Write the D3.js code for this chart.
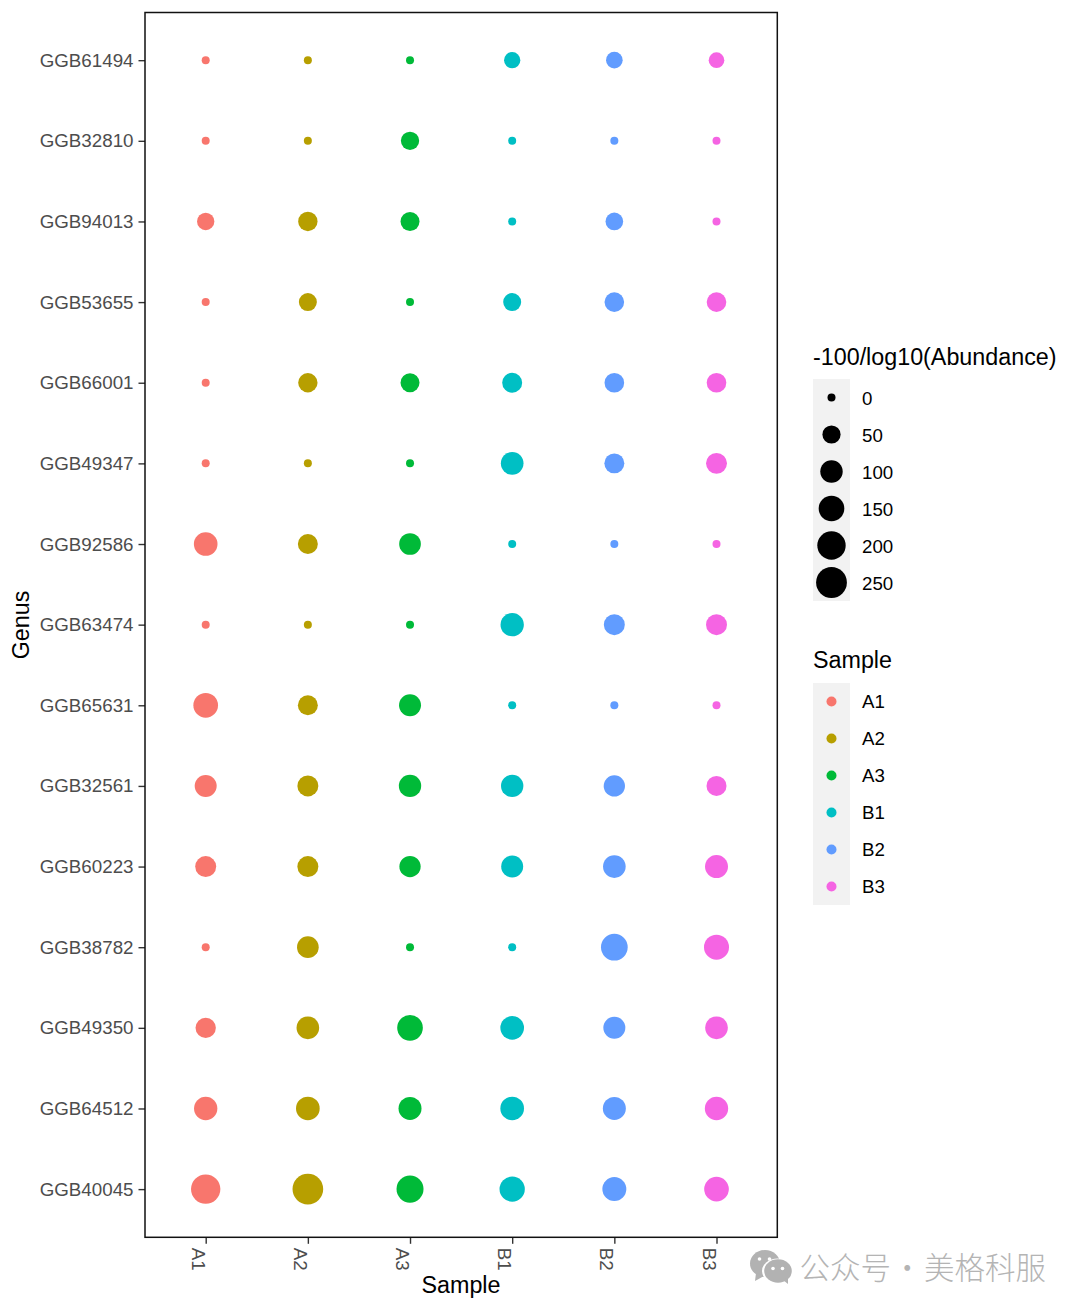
<!DOCTYPE html>
<html>
<head>
<meta charset="utf-8">
<script src="https://cdn.jsdelivr.net/npm/d3@7"></script>
<style>
html,body{margin:0;padding:0;background:#fff;}
svg{display:block;}
text{font-family:"Liberation Sans",Arial,sans-serif;}
</style>
</head>
<body>
<svg id="chart" width="1080" height="1311"></svg>
<script>
const samples = ["A1","A2","A3","B1","B2","B3"];
const genera = ["GGB61494","GGB32810","GGB94013","GGB53655","GGB66001","GGB49347","GGB92586","GGB63474","GGB65631","GGB32561","GGB60223","GGB38782","GGB49350","GGB64512","GGB40045"];
const valuesA1 = [0,0,42,0,0,0,118,0,134,94,81,0,73,113,219];
const valuesA2 = [0,0,62,48,62,0,69,0,69,81,81,90,103,118,247];
const valuesA3 = [0,51,58,0,58,0,90,0,94,99,85,0,150,108,174];
const valuesB1 = [33,0,0,48,69,103,0,113,0,99,94,0,118,118,144];
const valuesB2 = [36,0,45,65,65,69,0,81,0,85,103,168,94,108,123];
const valuesB3 = [28,0,0,65,65,81,0,81,0,69,108,139,103,113,134];
const seriesValues = [valuesA1,valuesA2,valuesA3,valuesB1,valuesB2,valuesB3];
const sampleColors = ["#F8766D","#B79F00","#00BA38","#00BFC4","#619CFF","#F564E3"];
const sizeBreaks = [0,50,100,150,200,250];

const svg = d3.select("#chart");
const panel = {left:145, right:777.3, top:11.8, bottom:1237.3};

const x = d3.scalePoint().domain(samples).range([144.4,777.8]).padding(0.6);
const y = d3.scalePoint().domain(genera).range([panel.top,panel.bottom+0.2]).padding(0.6);
const size = d3.scaleSqrt().domain([0,250]).range([4,15.4]);
const color = d3.scaleOrdinal().domain(samples).range(sampleColors);

// points
const cells = samples.flatMap((s,i)=>genera.map((g,j)=>({sample:s,genus:g,value:seriesValues[i][j]})));
svg.append("g").selectAll("circle").data(cells).join("circle")
  .attr("cx",d=>x(d.sample)).attr("cy",d=>y(d.genus))
  .attr("r",d=>size(d.value)).attr("fill",d=>color(d.sample));

// axes
const yAxis = svg.append("g").attr("transform",`translate(${panel.left},0)`)
  .call(d3.axisLeft(y).tickSize(6.5).tickPadding(5));
const xAxis = svg.append("g").attr("transform",`translate(0,${panel.bottom})`)
  .call(d3.axisBottom(x).tickSize(6.5).tickPadding(5));
[yAxis,xAxis].forEach(a=>{
  a.select(".domain").remove();
  a.selectAll(".tick line").attr("stroke","#333").attr("stroke-width",1.4);
  a.selectAll(".tick text").attr("fill","#4d4d4d").style("font-size","18.75px").style("font-family",'"Liberation Sans",Arial,sans-serif');
});
xAxis.selectAll(".tick text")
  .attr("text-anchor","start").attr("dy",null).attr("x",null).attr("y",null)
  .attr("transform","translate(-14.5,10.5) rotate(90)");

// panel border
svg.append("rect").attr("x",panel.left).attr("y",panel.top+0.7)
  .attr("width",panel.right-panel.left).attr("height",panel.bottom-panel.top-0.7)
  .attr("fill","none").attr("stroke","#111").attr("stroke-width",1.5);

// axis titles
svg.append("text").attr("x",461).attr("y",1293).attr("text-anchor","middle").style("font-size","23.3px").attr("fill","#000").text("Sample");
svg.append("text").attr("transform","translate(29,625) rotate(-90)").attr("text-anchor","middle").style("font-size","23.3px").attr("fill","#000").text("Genus");

// legends
function legend(title,titleY,top,items,r,fill,labelShift){
  svg.append("text").attr("x",813).attr("y",titleY).style("font-size","23.3px").attr("fill","#000").text(title);
  const key = 37;
  const g = svg.append("g");
  g.append("rect").attr("x",813).attr("y",top).attr("width",key).attr("height",key*items.length).attr("fill","#f2f2f2");
  const row = g.selectAll("g").data(items).join("g").attr("transform",(d,i)=>`translate(831.5,${top+key*(i+0.5)})`);
  row.append("circle").attr("r",r).attr("fill",fill);
  row.append("text").attr("x",30.5).attr("y",labelShift).attr("dy","0.36em").style("font-size","18.7px").attr("fill","#000").text(d=>d);
}
legend("-100/log10(Abundance)",364.5,379,sizeBreaks,d=>size(d),"#000",0.6);
legend("Sample",667.5,683,samples,5,d=>color(d),-0.2);

// watermark
const wm = svg.append("g");
const wmColor = "#b2b2b2";
wm.append("ellipse").attr("cx",765).attr("cy",1263.5).attr("rx",15).attr("ry",13.5).attr("fill",wmColor);
wm.append("path").attr("d","M756 1273 L755 1281 L764 1276 Z").attr("fill",wmColor);
wm.append("ellipse").attr("cx",777.5).attr("cy",1271).attr("rx",15.5).attr("ry",12.5).attr("fill","#fff");
wm.append("ellipse").attr("cx",778).attr("cy",1271).attr("rx",13.8).attr("ry",11.8).attr("fill",wmColor);
wm.append("path").attr("d","M783 1280 L788 1284 L788 1277 Z").attr("fill",wmColor);
[[759.5,1259],[769.5,1259],[773,1268.5],[782.5,1268.5]].forEach(p=>{
  wm.append("circle").attr("cx",p[0]).attr("cy",p[1]).attr("r",1.8).attr("fill","#fff");
});
const cjk = '"Noto Sans CJK SC","Noto Sans",sans-serif';
[["公众号",799.5],["·",892],["美格科服",924]].forEach(t=>{
  wm.append("text").attr("x",t[1]).attr("y",1279).attr("fill","#b4b4b4")
    .style("font-family",cjk).style("font-size","30.5px").style("font-weight","300").text(t[0]);
});
</script>
</body>
</html>
